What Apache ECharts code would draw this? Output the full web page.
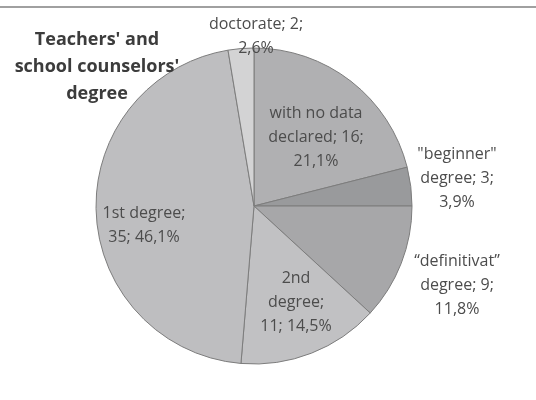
<!DOCTYPE html>
<html>
<head>
<meta charset="utf-8">
<script src="https://cdn.jsdelivr.net/npm/echarts@6/dist/echarts.min.js"></script>
<style>
  html, body { margin: 0; padding: 0; background: #fff; }
  #main { width: 536px; height: 400px; }
</style>
</head>
<body>
<div id="main"></div>
<script>
var chartDom = document.getElementById('main');
var myChart = echarts.init(chartDom);
var option;

// data, clockwise from 12 o'clock
const names = ['with no data\ndeclared', '"beginner"\ndegree', '\u201cdefinitivat\u201d\ndegree', '2nd\ndegree', '1st degree', 'doctorate'];
const counts = [16, 3, 9, 11, 35, 2];
// separators after the name and after the count (line break or space)
const nameBreaks = [' ', ' ', ' ', '\n', '\n', ' '];
const countBreaks = ['\n', '\n', '\n', ' ', ' ', '\n'];

const sliceColors = ['#b0b0b2', '#999a9c', '#a7a7a9', '#c1c1c3', '#bebec0', '#d3d3d4'];
// label centres in px
const labelSpots = [[316, 137], [457, 178], [457, 285], [296, 302], [144, 225], [256, 36]];

const total = counts.reduce((a, b) => a + b, 0);

function labelText(i)
{
  const pct = (counts[i] / total * 100).toFixed(1).replace('.', ',');
  return names[i] + ';' + nameBreaks[i] + counts[i] + ';' + countBreaks[i] + pct + '%';
}

const pieData = counts.map((v, i) => {
  return {
    name: names[i],
    value: v,
    itemStyle: { color: sliceColors[i] }
  };
});

option = {
  animation: false,
  backgroundColor: '#ffffff',
  title: {
    text: "Teachers' and\nschool counselors'\ndegree",
    left: 92,
    top: 21,
    z: 10,
    textAlign: 'center',
    textStyle: {
      fontFamily: 'Open Sans',
      fontWeight: 'bold',
      fontSize: 18,
      lineHeight: 27,
      color: '#3c3c3c'
    }
  },
  graphic: [
    {
      type: 'line',
      shape: { x1: 0, y1: 7, x2: 536, y2: 7 },
      style: { stroke: '#a0a0a0', lineWidth: 2 }
    }
  ],
  series: [
    {
      type: 'pie',
      center: [254, 206],
      radius: 158,
      startAngle: 90,
      clockwise: true,
      data: pieData,
      itemStyle: {
        borderColor: '#7d7d7d',
        borderWidth: 1
      },
      label: {
        show: true,
        position: 'inside',
        formatter: (p) => labelText(p.dataIndex),
        fontFamily: 'Open Sans',
        fontSize: 16,
        lineHeight: 24,
        color: '#4c4c4c',
        align: 'center'
      },
      labelLine: { show: false },
      labelLayout: (p) => {
        const s = labelSpots[p.dataIndex];
        return {
          x: s[0],
          y: s[1],
          align: 'center',
          verticalAlign: 'middle'
        };
      },
      emphasis: { disabled: true }
    }
  ]
};

option && myChart.setOption(option);
</script>
</body>
</html>
